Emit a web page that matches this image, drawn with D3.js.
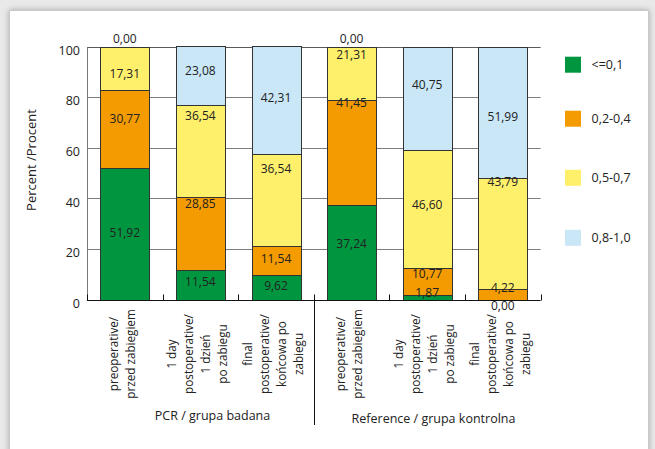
<!DOCTYPE html>
<html>
<head>
<meta charset="utf-8">
<script src="https://cdn.jsdelivr.net/npm/d3@7"></script>
<style>
  html, body { margin: 0; padding: 0; }
  body { width: 655px; height: 449px; background: #e9e9e9; position: relative; overflow: hidden; }
  #card { position: absolute; left: 9px; top: 10px; width: 638px; height: 470px;
          background: #fff; border: 1px solid #c9c9c9; box-shadow: 0 0 6px rgba(0,0,0,0.28); }
  svg { position: absolute; left: 0; top: 0; }
  text { font-family: "Open Sans", "Noto Sans", sans-serif; fill: #222; }
</style>
</head>
<body>
<div id="card"></div>
<svg id="chart" width="655" height="449"></svg>
<script>
// ---- data ----
const categoryLines = [
  ["preoperative/", "przed zabiegiem"],
  ["1 day", "postoperative/", "1 dzień", "po zabiegu"],
  ["final", "postoperative/", "końcowa po", "zabiegu"],
  ["preoperative/", "przed zabiegiem"],
  ["1 day", "postoperative/", "1 dzień", "po zabiegu"],
  ["final", "postoperative/", "końcowa po", "zabiegu"]
];
const groupNames = ["PCR / grupa badana", "Reference / grupa kontrolna"];
const seriesNames = ["<=0,1", "0,2-0,4", "0,5-0,7", "0,8-1,0"];
const seriesColors = ["#00963f", "#f39b00", "#fff06c", "#c9e7f7"];

const lowValues    = [51.92, 11.54,  9.62, 37.24,  1.87,  0.00];
const midLowValues = [30.77, 28.85, 11.54, 41.45, 10.77,  4.22];
const midHighValues= [17.31, 36.54, 36.54, 21.31, 46.60, 43.79];
const highValues   = [ 0.00, 23.08, 42.31,  0.00, 40.75, 51.99];

const yTicks = [0, 20, 40, 60, 80, 100];

// ---- layout ----
// percent level at which each value label is set, per series and category
const labelLevels = [
  [26.6,  6.9,  5.3, 21.9,  2.6, -2.4],
  [71.6, 37.7, 16.0, 77.9, 10.1,  4.7],
  [89.3, 72.8, 51.9, 96.8, 37.3, 46.7],
  [103.2, 90.3, 79.9, 103.2, 85.0, 72.4]
];
const legendY = [64.7, 118.7, 177.8, 237.8];

const plot = { left: 87, right: 540.6, top: 46.5, bottom: 299.5 };

const svg = d3.select("#chart");
const allSeries = [lowValues, midLowValues, midHighValues, highValues];
const rows = categoryLines.map((c, i) => {
  const r = { idx: i };
  seriesNames.forEach((s, k) => r[s] = allSeries[k][i]);
  return r;
});

const x = d3.scaleBand().domain(d3.range(categoryLines.length))
  .range([plot.left, plot.right]).paddingInner(0.352).paddingOuter(0.176);
const y = d3.scaleLinear().domain([0, 100]).range([plot.bottom, plot.top]);
const color = d3.scaleOrdinal().domain(seriesNames).range(seriesColors);
const fmt = v => d3.format(".2f")(v).replace(".", ",");
const snap = v => Math.round(v) + 0.5;

// gridlines
const g = svg.append("g");
g.selectAll("line.grid").data(yTicks.filter(t => t > 0)).join("line")
  .attr("x1", plot.left).attr("x2", plot.right)
  .attr("y1", d => snap(y(d))).attr("y2", d => snap(y(d)))
  .attr("stroke", d => d === 100 ? "#5a5a5a" : "#7d7d7d").attr("stroke-width", 1.1);

// left axis line
g.append("line").attr("x1", snap(plot.left)).attr("x2", snap(plot.left))
  .attr("y1", snap(y(100))).attr("y2", snap(y(0))).attr("stroke", "#777");

// stacked bars
const stack = d3.stack().keys(seriesNames)(rows);
svg.append("g").selectAll("g").data(stack).join("g")
  .attr("fill", d => color(d.key))
  .selectAll("rect").data(d => d).join("rect")
  .attr("x", d => snap(x(d.data.idx)))
  .attr("width", Math.round(x.bandwidth()))
  .attr("y", d => snap(y(d[1])))
  .attr("height", d => Math.max(0, snap(y(d[0])) - snap(y(d[1]))))
  .attr("stroke", d => (d[1] - d[0]) > 0 ? "#333" : "none")
  .attr("stroke-width", 1);

// bottom axis with category boundary ticks
svg.append("line").attr("x1", plot.left).attr("x2", plot.right)
  .attr("y1", snap(y(0))).attr("y2", snap(y(0))).attr("stroke", "#111").attr("stroke-width", 1.2);
const bounds = d3.range(categoryLines.length + 1).map(i => plot.left + i * x.step());
svg.selectAll("line.btick").data(bounds).join("line")
  .attr("x1", d => snap(d)).attr("x2", d => snap(d))
  .attr("y1", snap(y(0)) - 6).attr("y2", snap(y(0)))
  .attr("stroke", "#111");
// group separator
svg.append("line").attr("x1", snap(bounds[3])).attr("x2", snap(bounds[3]))
  .attr("y1", snap(y(0))).attr("y2", 425).attr("stroke", "#111");

// value labels
const labelG = svg.append("g").attr("font-size", 12).attr("text-anchor", "middle");
allSeries.forEach((vals, k) => {
  vals.forEach((v, i) => {
    labelG.append("text")
      .attr("x", x(i) + x.bandwidth() / 2)
      .attr("y", y(labelLevels[k][i]))
      .attr("dy", "0.36em")
      .text(fmt(v));
  });
});

// y tick labels
svg.append("g").selectAll("text").data(yTicks).join("text")
  .attr("x", 80).attr("y", d => y(d) + 8.2)
  .attr("text-anchor", "end").attr("font-size", 12.5)
  .text(d => d);

// y axis title
svg.append("text").attr("transform", "translate(36,160) rotate(-90)")
  .attr("text-anchor", "middle").attr("font-size", 13).text("Percent /Procent");

// category labels (rotated, multiline)
const catG = svg.append("g").attr("font-size", 11.7);
categoryLines.forEach((lines, i) => {
  const cx = x(i) + x.bandwidth() / 2;
  const t = catG.append("text")
    .attr("transform", `translate(${cx},354) rotate(-90)`)
    .attr("text-anchor", "middle");
  lines.forEach((ln, j) => {
    t.append("tspan").attr("x", 0)
      .attr("y", (j - (lines.length - 1) / 2) * 17 + 1.5)
      .text(ln);
  });
});

// group labels
const groupPos = [[212.5, 420], [433.5, 423]];
svg.append("g").attr("font-size", 12.5).attr("text-anchor", "middle")
  .selectAll("text").data(groupNames).join("text")
  .attr("x", (d, i) => groupPos[i][0]).attr("y", (d, i) => groupPos[i][1])
  .text(d => d);

// legend
const leg = svg.append("g");
seriesNames.forEach((s, k) => {
  leg.append("rect").attr("x", 565).attr("y", legendY[k] - 8)
    .attr("width", 16).attr("height", 16).attr("fill", color(s));
  leg.append("text").attr("x", 591.5).attr("y", legendY[k]).attr("dy", "0.36em")
    .attr("font-size", 12.5).text(s);
});
</script>
</body>
</html>
